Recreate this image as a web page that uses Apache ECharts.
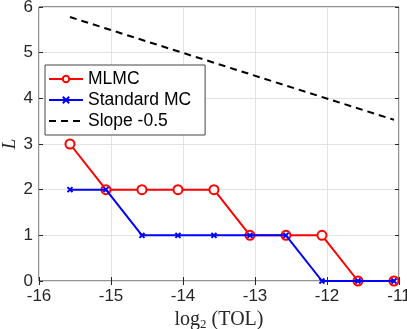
<!DOCTYPE html>
<html>
<head>
<meta charset="utf-8">
<script src="https://cdn.jsdelivr.net/npm/echarts@6/dist/echarts.min.js"></script>
<style>
html,body{margin:0;padding:0;background:#fff;}
#c{width:407px;height:329px;}
</style>
</head>
<body>
<div id="c"></div>
<script>
const xVals = [-15.57, -15.07, -14.57, -14.07, -13.57, -13.07, -12.57, -12.07, -11.57, -11.07];
const mlmc = [3, 2, 2, 2, 2, 1, 1, 1, 0, 0];
const stdmc = [2, 2, 1, 1, 1, 1, 1, 0, 0, 0];
const slopeX = [-15.57, -11.07];
const slopeY = [5.78, 3.53];
const seriesNames = ['MLMC', 'Standard MC', 'Slope -0.5'];

const chart = echarts.init(document.getElementById('c'), null, {renderer: 'canvas'});
const axisCol = '#262626';
const gridCol = '#e3e3e3';
const tickFont = {fontFamily: 'Liberation Sans, Arial, sans-serif', fontSize: 17, color: axisCol};

function pairs(xs, ys) { return xs.map((x, i) => [x, ys[i]]); }

const crossPath = 'path://M0,0L10,10M10,0L0,10';

chart.setOption({
  animation: false,
  backgroundColor: '#fff',
  grid: {left: 39, right: 8, top: 7, bottom: 48, show: true, borderColor: axisCol, borderWidth: 1, backgroundColor: 'transparent', containLabel: false, outerBoundsMode: 'none'},
  legend: {
    orient: 'vertical',
    left: 45, top: 65,
    data: [
      {name: seriesNames[0]},
      {name: seriesNames[1]},
      {name: seriesNames[2], itemStyle: {color: 'rgba(0,0,0,0)', borderWidth: 0}}
    ],
    backgroundColor: '#fff',
    borderColor: '#444',
    borderWidth: 1,
    borderRadius: 0,
    padding: [5, 14, 5, 3],
    itemWidth: 34,
    itemHeight: 8,
    itemGap: 3,
    itemTextGap: 3,
    textStyle: {fontFamily: 'Liberation Sans, Arial, sans-serif', fontSize: 17.5, color: '#000'}
  },
  xAxis: [{
    type: 'value', min: -16, max: -11, interval: 1,
    axisLine: {show: false},
    axisTick: {show: true, inside: true, length: 4, lineStyle: {color: axisCol}},
    axisLabel: Object.assign({margin: 7}, tickFont),
    splitLine: {show: true, lineStyle: {color: gridCol, width: 1}},
    name: '{a|log}{s|2}{a| (TOL)}',
    nameLocation: 'middle',
    nameGap: 27,
    nameMoveOverlap: false,
    nameTextStyle: {
      rich: {
        a: {fontFamily: 'Liberation Serif, DejaVu Serif, serif', fontSize: 20, color: axisCol},
        s: {fontFamily: 'Liberation Serif, DejaVu Serif, serif', fontSize: 13, color: axisCol, verticalAlign: 'bottom', padding: [10, 0, 0, 0]}
      }
    }
  }, {
    type: 'value', min: -16, max: -11, interval: 1, position: 'top',
    axisLine: {show: false},
    axisTick: {show: true, inside: true, length: 4, lineStyle: {color: axisCol}},
    axisLabel: {show: false},
    splitLine: {show: false}
  }],
  yAxis: [{
    type: 'value', min: 0, max: 6, interval: 1,
    axisLine: {show: false},
    axisTick: {show: true, inside: true, length: 4, lineStyle: {color: axisCol}},
    axisLabel: Object.assign({margin: 6}, tickFont),
    splitLine: {show: true, lineStyle: {color: gridCol, width: 1}},
    name: 'L',
    nameLocation: 'middle',
    nameRotate: 90,
    nameGap: 20,
    nameMoveOverlap: false,
    nameTextStyle: {fontFamily: 'Liberation Serif, DejaVu Serif, serif', fontStyle: 'italic', fontSize: 19, color: axisCol}
  }, {
    type: 'value', min: 0, max: 6, interval: 1, position: 'right',
    axisLine: {show: false},
    axisTick: {show: true, inside: true, length: 4, lineStyle: {color: axisCol}},
    axisLabel: {show: false},
    splitLine: {show: false}
  }],
  series: [{
    name: seriesNames[0],
    type: 'line',
    data: pairs(xVals, mlmc),
    lineStyle: {color: '#ff0000', width: 2},
    itemStyle: {color: '#fff', borderColor: '#ff0000', borderWidth: 2},
    symbol: 'circle',
    symbolSize: 9,
    showAllSymbol: true,
    z: 2
  }, {
    name: seriesNames[1],
    type: 'line',
    data: pairs(xVals, stdmc),
    lineStyle: {color: '#0000ff', width: 2},
    itemStyle: {color: '#0000ff', borderColor: '#0000ff', borderWidth: 2},
    symbol: crossPath,
    symbolSize: 5,
    showAllSymbol: true,
    z: 3
  }, {
    name: seriesNames[2],
    type: 'line',
    data: pairs(slopeX, slopeY),
    lineStyle: {color: '#000', width: 2, type: [7, 5]},
    itemStyle: {color: '#000'},
    symbol: 'none',
    z: 4
  }]
});
</script>
</body>
</html>
